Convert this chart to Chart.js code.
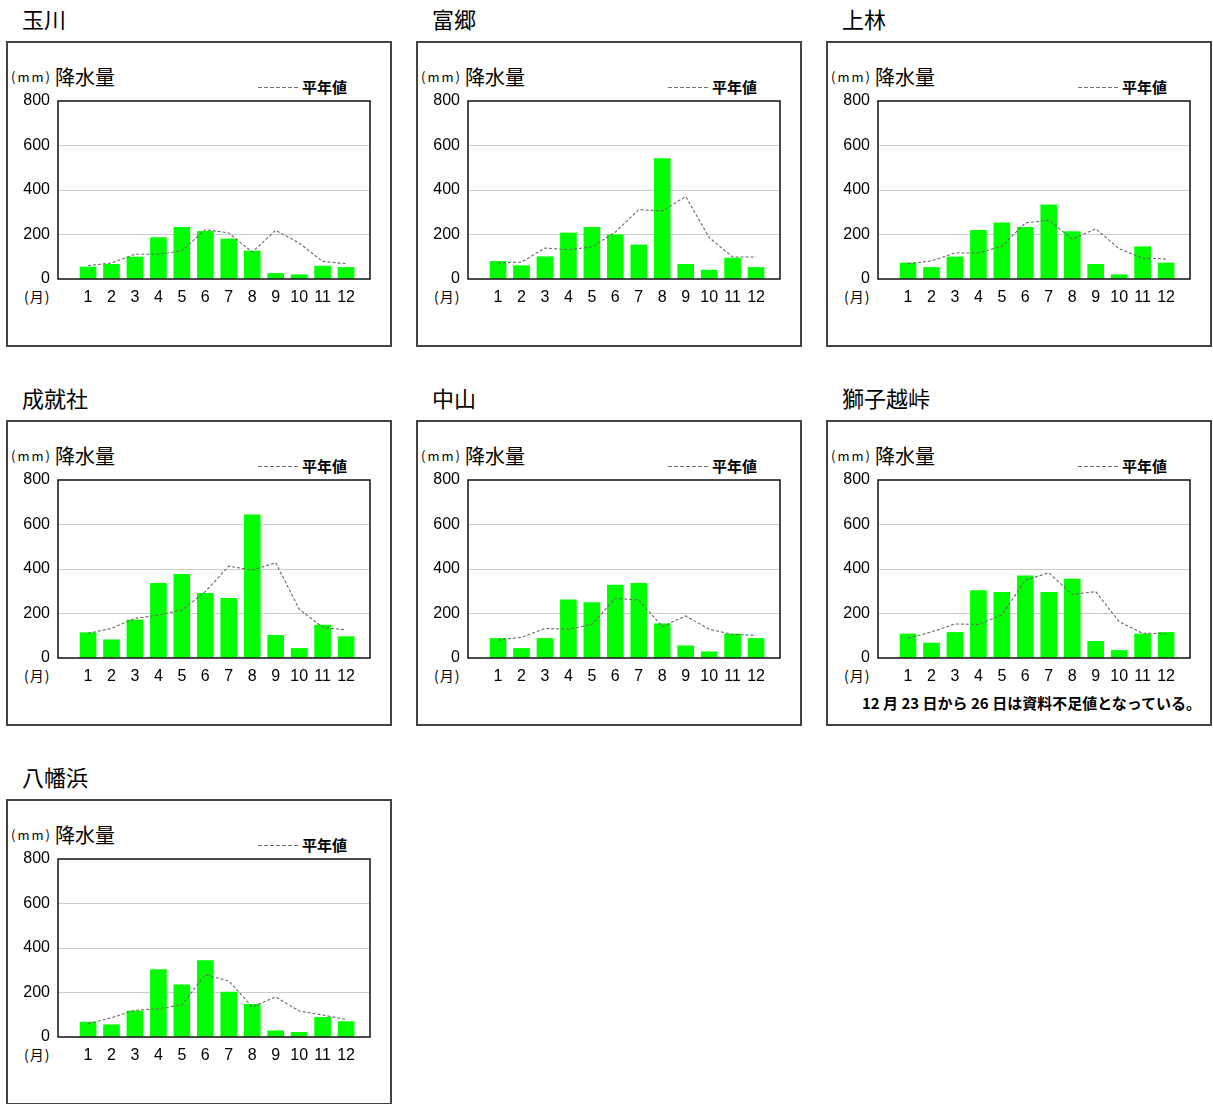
<!DOCTYPE html>
<html lang="ja">
<head>
<meta charset="utf-8">
<title>降水量</title>
<script src="https://cdn.jsdelivr.net/npm/chart.js@4/dist/chart.umd.min.js"></script>
<style>
  body { margin: 0; background: #fff; font-family: "Noto Sans CJK JP", sans-serif; color: #000; }
  #page { position: relative; width: 1213px; height: 1104px; overflow: hidden; }
  .title { position: absolute; font-size: 22px; line-height: 26px; white-space: nowrap; }
  .panel { position: absolute; width: 386px; height: 306px; box-sizing: border-box; border: 2px solid #444; }
  .panel canvas { position: absolute; left: 0; top: 0; }
  .unit { position: absolute; left: 3px; top: 26px; font-size: 13px; line-height: 16px; letter-spacing: 2px; }
  .ylabel { position: absolute; left: 47px; top: 22px; font-size: 20px; line-height: 24px; }
  .legline { position: absolute; left: 250px; top: 44px; width: 40px; height: 1px;
             background: repeating-linear-gradient(to right, #707070 0 4px, transparent 4px 6px); }
  .legtext { position: absolute; left: 294px; top: 35px; font-size: 15px; line-height: 18px; font-weight: bold; }
  .month { position: absolute; left: 16px; top: 244px; font-size: 14px; line-height: 18px; letter-spacing: 1px; }
  .note { position: absolute; left: 34px; top: 271px; font-size: 15px; line-height: 20px; font-weight: bold; white-space: nowrap; }
</style>
</head>
<body>
<div id="page"></div>
<script>
// 月と目盛
const months = [1, 2, 3, 4, 5, 6, 7, 8, 9, 10, 11, 12];
const yTicks = [0, 200, 400, 600, 800];

const stations = ['玉川', '富郷', '上林', '成就社', '中山', '獅子越峠', '八幡浜'];

// 降水量 (mm) と平年値
const rainTamagawa = [54, 66, 99, 186, 232, 214, 180, 126, 25, 19, 58, 52];
const normTamagawa = [60, 72, 111, 111, 126, 222, 207, 121, 219, 162, 79, 69];

const rainTomisato = [79, 60, 100, 207, 232, 199, 153, 541, 66, 40, 94, 52];
const normTomisato = [72, 76, 139, 132, 144, 211, 312, 306, 371, 186, 99, 99];

const rainKamibayashi = [72, 52, 99, 219, 253, 232, 333, 213, 66, 19, 145, 72];
const normKamibayashi = [69, 81, 117, 117, 147, 252, 264, 180, 226, 136, 94, 90];

const rainJojusha = [114, 82, 171, 336, 376, 291, 268, 643, 102, 43, 148, 96];
const normJojusha = [111, 133, 178, 193, 216, 298, 413, 395, 428, 220, 138, 126];

const rainNakayama = [88, 43, 88, 262, 249, 328, 336, 154, 55, 28, 108, 88];
const normNakayama = [81, 93, 133, 129, 151, 268, 261, 141, 189, 129, 106, 102];

const rainShishigoe = [108, 67, 115, 303, 295, 369, 295, 355, 75, 34, 108, 115];
const normShishigoe = [88, 117, 153, 151, 193, 350, 383, 286, 298, 163, 111, 109];

const rainYawatahama = [67, 55, 117, 303, 235, 343, 202, 147, 28, 21, 88, 69];
const normYawatahama = [60, 87, 120, 127, 145, 280, 252, 135, 180, 117, 99, 79];

const rainList = [rainTamagawa, rainTomisato, rainKamibayashi, rainJojusha, rainNakayama, rainShishigoe, rainYawatahama];
const normList = [normTamagawa, normTomisato, normKamibayashi, normJojusha, normNakayama, normShishigoe, normYawatahama];

const notes = { 5: '12 月 23 日から 26 日は資料不足値となっている。' };

// プロット枠
const frame = {
  id: 'frame',
  afterDraw(chart) {
    const a = chart.chartArea;
    const ctx = chart.ctx;
    ctx.save();
    ctx.strokeStyle = '#111';
    ctx.lineWidth = 1.5;
    ctx.strokeRect(a.left, a.top, a.right - a.left, a.bottom - a.top);
    ctx.restore();
  }
};

const tickFont = { family: 'Liberation Sans', size: 16 };

function createChart(canvas, rain, norm) {
  new Chart(canvas, {
    type: 'bar',
    data: {
      datasets: [
        {
          type: 'line',
          label: '平年値',
          data: months.map((m, i) => ({ x: m, y: norm[i] })),
          borderColor: '#6a6a6a',
          borderWidth: 1.1,
          borderDash: [3, 2],
          pointRadius: 0,
          tension: 0,
          order: 0
        },
        {
          type: 'bar',
          label: '降水量',
          data: months.map((m, i) => ({ x: m, y: rain[i] })),
          backgroundColor: '#00ff00',
          barThickness: 16,
          order: 1
        }
      ]
    },
    options: {
      responsive: false,
      animation: false,
      events: [],
      layout: { padding: { left: 0, top: 58, right: 20, bottom: 36 } },
      plugins: { legend: { display: false }, tooltip: { enabled: false } },
      scales: {
        x: {
          type: 'linear',
          offset: false,
          min: -0.28,
          max: 13.02,
          afterBuildTicks: s => { s.ticks = months.map(m => ({ value: m })); },
          afterFit: s => { s.height = 30; },
          ticks: { color: '#000', font: tickFont, padding: 9, maxRotation: 0, autoSkip: false },
          grid: { display: false, drawTicks: false },
          border: { display: false }
        },
        y: {
          min: 0,
          max: 800,
          afterBuildTicks: s => { s.ticks = yTicks.map(v => ({ value: v })); },
          afterFit: s => { s.width = 50; },
          ticks: { color: '#000', font: tickFont, padding: 8 },
          grid: {
            drawTicks: false,
            color: c => (c.tick.value === 0 || c.tick.value === 800) ? 'rgba(0,0,0,0)' : '#cccccc'
          },
          border: { display: false }
        }
      }
    },
    plugins: [frame]
  });
}

document.addEventListener('DOMContentLoaded', () => {
  const page = document.getElementById('page');
  stations.forEach((name, i) => {
    const col = i % 3;
    const row = Math.floor(i / 3);
    const left = 6 + col * 410;
    const top = 41 + row * 379;

    const title = document.createElement('div');
    title.className = 'title';
    title.style.left = (left + 16) + 'px';
    title.style.top = (top - 36) + 'px';
    title.textContent = name;
    page.appendChild(title);

    const panel = document.createElement('div');
    panel.className = 'panel';
    panel.style.left = left + 'px';
    panel.style.top = top + 'px';
    panel.innerHTML =
      '<div class="unit">(mm)</div>' +
      '<div class="ylabel">降水量</div>' +
      '<div class="legline"></div>' +
      '<div class="legtext">平年値</div>' +
      '<div class="month">(月)</div>' +
      (notes[i] ? '<div class="note">' + notes[i] + '</div>' : '');
    const canvas = document.createElement('canvas');
    canvas.width = 382;
    canvas.height = 302;
    panel.appendChild(canvas);
    page.appendChild(panel);

    createChart(canvas, rainList[i], normList[i]);
  });
});
</script>
</body>
</html>
